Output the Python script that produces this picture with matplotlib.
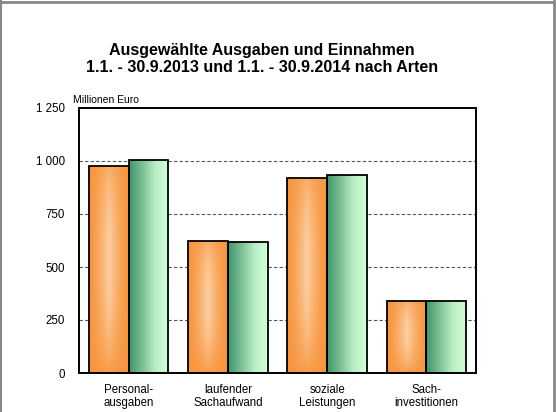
import numpy as np
import matplotlib.pyplot as plt
from matplotlib.colors import LinearSegmentedColormap, to_rgb
from matplotlib.lines import Line2D

plt.rcParams['font.family'] = ['Liberation Sans', 'DejaVu Sans']

# Daten (Millionen Euro)
kategorien = ['Personal-\nausgaben', 'laufender\nSachaufwand', 'soziale\nLeistungen', 'Sach-\ninvestitionen']
werte_2013 = [978, 623, 921, 341]
werte_2014 = [1005, 620, 935, 341]
yticks = [0, 250, 500, 750, 1000, 1250]
ytick_labels = ['0', '250', '500', '750', '1 000', '1 250']

W, H = 556, 412
fig = plt.figure(figsize=(W / 100, H / 100), dpi=100)
ax = fig.add_axes([79 / W, (H - 373) / H, 397 / W, 265 / H])

x = np.arange(len(kategorien))
bw = 0.4

bars13 = ax.bar(x - bw / 2, werte_2013, bw, facecolor='none', edgecolor='black', linewidth=1.3, zorder=3)
bars14 = ax.bar(x + bw / 2, werte_2014, bw, facecolor='none', edgecolor='black', linewidth=1.3, zorder=3)

# Farbverlaeufe
orange = np.array(to_rgb('#f7953c'))
peach = np.array(to_rgb('#fcd0a4'))
gx = np.linspace(0, 1, 80)
gy = np.linspace(0, 1, 120)
GX, GY = np.meshgrid(gx, gy)
f = (1 - np.abs(2 * GX - 1)) ** 1.4 * (1 - 0.7 * np.abs(2 * GY - 1.1) ** 2)
f = np.clip(f, 0, 1)
img_orange = orange + (peach - orange) * f[..., None]

green_cmap = LinearSegmentedColormap.from_list('gr', ['#3f956a', '#7cbf95', '#b9eec4', '#d2ffd8'])
img_green = green_cmap(np.tile(gx, (2, 1)))[..., :3]

for bars, img in ((bars13, img_orange), (bars14, img_green)):
    for r in bars:
        x0, y0 = r.get_x(), r.get_y()
        w, h = r.get_width(), r.get_height()
        im = ax.imshow(img, extent=[x0, x0 + w, y0, y0 + h], origin='lower',
                       aspect='auto', zorder=2, interpolation='bilinear')
        im.set_clip_path(r)

ax.set_xlim(-0.5, len(kategorien) - 0.5)
ax.set_ylim(0, 1250)
ax.set_yticks(yticks)
ax.set_yticklabels(ytick_labels, fontsize=8.3)
ax.set_xticks(x)
ax.set_xticklabels(kategorien, fontsize=8.3, linespacing=1.12)
ax.tick_params(axis='y', length=0, pad=10)
ax.tick_params(axis='x', length=0, pad=8)
for yv in yticks[1:-1]:
    ax.axhline(yv, color='#555555', linewidth=0.8, linestyle=(0, (3, 2)), zorder=1)
for s in ax.spines.values():
    s.set_linewidth(1.4)

fig.text(262 / W, 1 - 59 / H, 'Ausgewählte Ausgaben und Einnahmen\n1.1. - 30.9.2013 und 1.1. - 30.9.2014 nach Arten',
         ha='center', va='center', fontsize=11.5, fontweight='bold', linespacing=1.15)
fig.text(73 / W, 1 - 100 / H, 'Millionen Euro', fontsize=7.5, va='center')

# grauer Rahmen
fig.add_artist(Line2D([0, 554.5 / W], [1 - 1.5 / H, 1 - 1.5 / H], color='#888888', linewidth=2, transform=fig.transFigure))
fig.add_artist(Line2D([554 / W, 554 / W], [0, 1 - 1 / H], color='#888888', linewidth=2, transform=fig.transFigure))
fig.add_artist(Line2D([0.5 / W, 0.5 / W], [0, 1 - 1 / H], color='#888888', linewidth=1.5, transform=fig.transFigure))

fig.savefig('out.png', dpi=100)
